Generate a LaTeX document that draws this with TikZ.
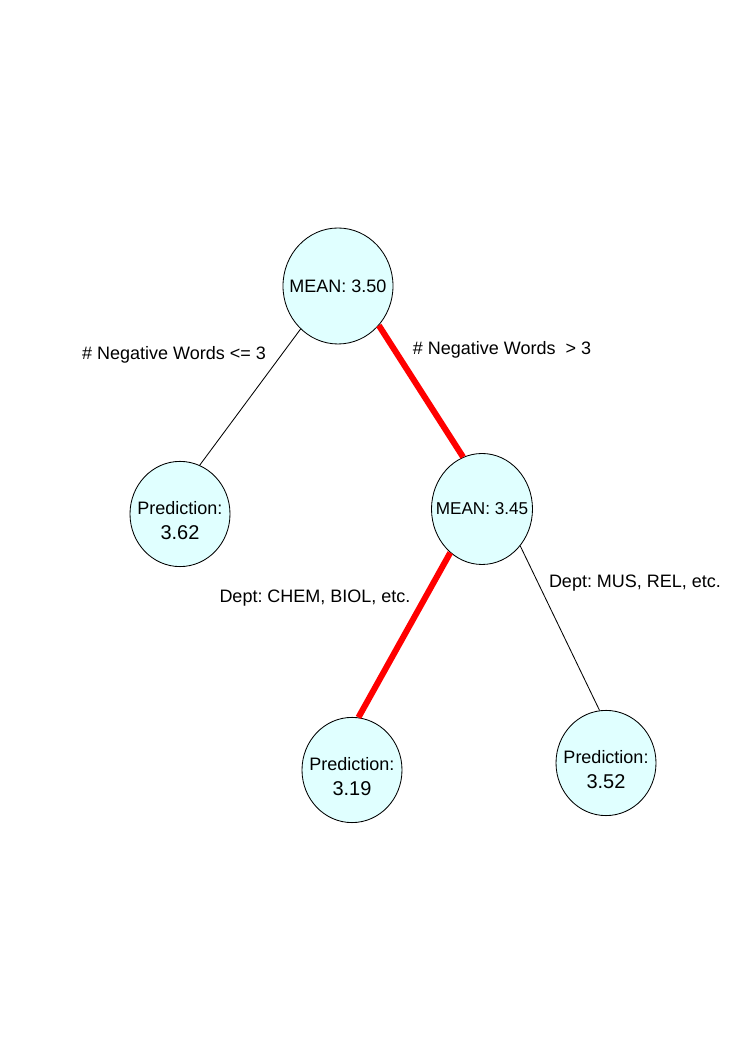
\documentclass[tikz,border=0pt]{standalone}
\usepackage{fontspec}
\setmainfont{Liberation Sans}
\usetikzlibrary{shapes.geometric}
\definecolor{nodefill}{HTML}{E0FFFF}
\newcommand{\prediction}[1]{\rule{0pt}{0.66cm}Prediction:\\{\fontsize{14.2}{17}\selectfont #1}}

\begin{document}
\begin{tikzpicture}[line width=0.6pt,
  every node/.style={font=\fontsize{12.8}{17.8}\selectfont\frenchspacing},
  split/.style={ellipse,draw,fill=nodefill,inner xsep=-0.3cm,inner ysep=0pt,align=center,minimum width=2.5cm,minimum height=2.63cm},
  path/.style={red,line width=4.3pt}]

\useasboundingbox (0,0) rectangle (18.625,26.325);

\node[split,minimum width=2.75cm,minimum height=2.9cm] (root) at (8.45,19.175) {MEAN: 3.50};
\node[split] (pred1) at (4.5,13.475) {\prediction{3.62}};
\node[split,minimum width=2.525cm,minimum height=2.775cm,font=\fontsize{12.2}{15}\selectfont\frenchspacing] (mean2) at (12.05,13.6) {MEAN: 3.45};
\node[split] (pred2) at (8.8,7.075) {\prediction{3.19}};
\node[split] (pred3) at (15.15,7.25) {\prediction{3.52}};

\node (lowneg) at (4.35,17.45) {\# Negative Words <= 3};
\node (highneg) at (12.55,17.575) {\# Negative Words \ > 3};
\node (sci) at (7.875,11.375) {Dept: CHEM, BIOL, etc.};
\node (arts) at (15.875,11.75) {Dept: MUS, REL, etc.};

\draw (root.229) -- (pred1.68);
\draw[path] (root.316) -- (mean2.110);
\draw[path] (mean2.234) -- (pred2.83);
\draw (mean2.316) -- (pred3.97);

\end{tikzpicture}
\end{document}
